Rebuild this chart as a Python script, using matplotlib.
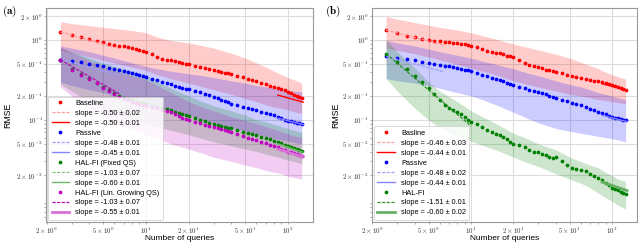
import numpy as np
import matplotlib
matplotlib.use("Agg")
import matplotlib.pyplot as plt
from matplotlib.ticker import LogLocator, NullFormatter

plt.rcParams['font.family'] = ['Liberation Sans', 'DejaVu Sans']
plt.rcParams['mathtext.fontset'] = 'cm'

# number of queries at which the mean RMSE is shown
queries = [2.5, 3, 3.5, 4, 4.5, 5, 5.5, 6, 6.5, 7, 7.5, 8, 8.5, 9, 9.5, 10,
           11, 12, 13, 14, 15, 16, 17, 18, 19, 20,
           22, 24, 26, 28, 30, 32, 34, 36, 38, 40,
           44, 48, 52, 56, 60,
           65, 70, 75, 80, 85, 90, 95, 100, 105, 110, 115, 120, 125]

# panel (a) means
a_baseline = [1.27, 1.18, 1.11, 1.04, 0.99, 0.95, 0.91, 0.88, 0.86, 0.84, 0.82, 0.795, 0.775, 0.755, 0.74, 0.72,
              0.68, 0.62, 0.585, 0.57, 0.56, 0.545, 0.53, 0.515, 0.505, 0.50,
              0.48, 0.465, 0.45, 0.435, 0.42, 0.41, 0.40, 0.39, 0.385, 0.375,
              0.36, 0.345, 0.33, 0.32, 0.305,
              0.29, 0.28, 0.27, 0.26, 0.25, 0.245, 0.235, 0.225, 0.215, 0.205, 0.198, 0.192, 0.186]
a_passive = [0.575, 0.55, 0.53, 0.51, 0.49, 0.47, 0.455, 0.44, 0.425, 0.41, 0.40, 0.385, 0.375, 0.365, 0.355, 0.345,
             0.33, 0.315, 0.30, 0.29, 0.28, 0.27, 0.262, 0.255, 0.248, 0.242,
             0.232, 0.222, 0.212, 0.203, 0.195, 0.187, 0.18, 0.173, 0.166, 0.16,
             0.152, 0.146, 0.141, 0.136, 0.132,
             0.127, 0.123, 0.118, 0.114, 0.11, 0.105, 0.101, 0.098, 0.096, 0.094, 0.092, 0.091, 0.09]
a_fixed = [0.57, 0.44, 0.375, 0.335, 0.295, 0.26, 0.235, 0.215, 0.2, 0.19, 0.182, 0.176, 0.17, 0.165, 0.161, 0.157,
           0.151, 0.146, 0.141, 0.137, 0.132, 0.127, 0.122, 0.118, 0.115, 0.112,
           0.106, 0.10, 0.096, 0.092, 0.089, 0.087, 0.084, 0.082, 0.08, 0.078,
           0.074, 0.071, 0.068, 0.066, 0.064,
           0.061, 0.059, 0.057, 0.055, 0.053, 0.051, 0.049, 0.047, 0.046, 0.044, 0.043, 0.042, 0.041]
a_growing = [0.57, 0.43, 0.37, 0.33, 0.29, 0.25, 0.23, 0.21, 0.195, 0.185, 0.178, 0.17, 0.165, 0.16, 0.155, 0.15,
             0.145, 0.14, 0.135, 0.13, 0.124, 0.118, 0.112, 0.107, 0.103, 0.10,
             0.095, 0.091, 0.087, 0.084, 0.081, 0.078, 0.076, 0.074, 0.072, 0.07,
             0.066, 0.063, 0.06, 0.058, 0.056,
             0.053, 0.051, 0.049, 0.047, 0.045, 0.043, 0.042, 0.04, 0.039, 0.038, 0.037, 0.036, 0.035]

# panel (b) means
b_baseline = [1.35, 1.23, 1.15, 1.09, 1.05, 1.01, 0.995, 0.98, 0.965, 0.95, 0.935, 0.92, 0.905, 0.89, 0.875, 0.86,
              0.82, 0.77, 0.73, 0.705, 0.70, 0.69, 0.665, 0.645, 0.645, 0.61,
              0.56, 0.52, 0.495, 0.475, 0.46, 0.445, 0.43, 0.42, 0.41, 0.40,
              0.385, 0.372, 0.36, 0.35, 0.34,
              0.33, 0.32, 0.31, 0.305, 0.298, 0.29, 0.281, 0.273, 0.265, 0.258, 0.252, 0.246, 0.24]
b_passive = [0.63, 0.60, 0.58, 0.56, 0.54, 0.52, 0.505, 0.49, 0.48, 0.47, 0.46, 0.45, 0.44, 0.43, 0.42, 0.41,
             0.39, 0.37, 0.355, 0.34, 0.33, 0.318, 0.306, 0.295, 0.285, 0.276,
             0.262, 0.25, 0.24, 0.231, 0.223, 0.216, 0.209, 0.202, 0.196, 0.19,
             0.18, 0.172, 0.165, 0.158, 0.152,
             0.145, 0.139, 0.133, 0.127, 0.122, 0.117, 0.113, 0.11, 0.107, 0.105, 0.102, 0.10, 0.099]
b_halfi = [0.68, 0.53, 0.44, 0.36, 0.30, 0.25, 0.21, 0.18, 0.155, 0.142, 0.133, 0.125, 0.117, 0.108, 0.10, 0.094,
           0.088, 0.081, 0.075, 0.071, 0.067, 0.064, 0.061, 0.057, 0.052, 0.05,
           0.049, 0.045, 0.042, 0.04, 0.039, 0.0375, 0.036, 0.0345, 0.0335, 0.034,
           0.030, 0.027, 0.025, 0.024, 0.0235,
           0.0225, 0.021, 0.0195, 0.0185, 0.0175, 0.016, 0.015, 0.014, 0.0135, 0.013, 0.0125, 0.0121, 0.0118]

# spread bands (lower / upper), on a coarser set of query counts
band_q = [2.5, 3, 4, 5, 6, 8, 10, 12, 15, 20, 25, 30, 40, 50, 60, 70, 80, 90, 100, 110, 125]
a_baseline_hi = [1.71, 1.63, 1.53, 1.46, 1.41, 1.33, 1.25, 1.1, 1.0, 0.93, 0.86, 0.8, 0.69, 0.6, 0.52, 0.46, 0.41, 0.37, 0.34, 0.32, 0.29]
a_baseline_lo = [0.75, 0.7, 0.62, 0.56, 0.52, 0.46, 0.42, 0.37, 0.33, 0.29, 0.26, 0.24, 0.21, 0.185, 0.17, 0.155, 0.145, 0.14, 0.133, 0.127, 0.12]
a_passive_hi = [0.85, 0.8, 0.72, 0.65, 0.6, 0.52, 0.47, 0.44, 0.41, 0.38, 0.36, 0.34, 0.31, 0.29, 0.27, 0.26, 0.25, 0.24, 0.235, 0.23, 0.225]
a_passive_lo = [0.3, 0.27, 0.24, 0.22, 0.2, 0.18, 0.16, 0.145, 0.13, 0.115, 0.1, 0.092, 0.08, 0.072, 0.066, 0.062, 0.058, 0.056, 0.054, 0.052, 0.05]
a_fixed_hi = [0.82, 0.72, 0.6, 0.52, 0.47, 0.41, 0.37, 0.3, 0.25, 0.2, 0.17, 0.15, 0.13, 0.115, 0.1, 0.094, 0.088, 0.082, 0.078, 0.074, 0.07]
a_fixed_lo = [0.28, 0.23, 0.17, 0.14, 0.12, 0.1, 0.09, 0.082, 0.074, 0.065, 0.058, 0.053, 0.047, 0.043, 0.04, 0.037, 0.035, 0.033, 0.031, 0.03, 0.028]
a_growing_hi = [0.82, 0.7, 0.56, 0.47, 0.42, 0.36, 0.32, 0.27, 0.22, 0.17, 0.145, 0.13, 0.11, 0.098, 0.09, 0.082, 0.076, 0.071, 0.067, 0.063, 0.06]
a_growing_lo = [0.26, 0.2, 0.14, 0.11, 0.09, 0.075, 0.065, 0.058, 0.05, 0.043, 0.038, 0.034, 0.03, 0.027, 0.025, 0.023, 0.022, 0.021, 0.0195, 0.0188, 0.018]
b_baseline_hi = [2.0, 1.85, 1.68, 1.55, 1.46, 1.35, 1.25, 1.15, 1.04, 0.9, 0.82, 0.76, 0.67, 0.6, 0.53, 0.48, 0.44, 0.4, 0.37, 0.35, 0.325]
b_baseline_lo = [0.8, 0.75, 0.68, 0.62, 0.57, 0.5, 0.45, 0.41, 0.37, 0.31, 0.28, 0.26, 0.23, 0.21, 0.2, 0.19, 0.18, 0.175, 0.17, 0.165, 0.16]
b_passive_hi = [1.0, 0.93, 0.85, 0.78, 0.72, 0.65, 0.6, 0.55, 0.5, 0.44, 0.39, 0.36, 0.31, 0.28, 0.26, 0.24, 0.22, 0.21, 0.2, 0.19, 0.18]
b_passive_lo = [0.33, 0.31, 0.29, 0.27, 0.25, 0.22, 0.2, 0.18, 0.155, 0.125, 0.105, 0.092, 0.078, 0.072, 0.068, 0.065, 0.062, 0.06, 0.058, 0.056, 0.053]
b_halfi_hi = [1.0, 0.72, 0.45, 0.3, 0.23, 0.17, 0.13, 0.11, 0.09, 0.068, 0.058, 0.05, 0.042, 0.034, 0.03, 0.027, 0.025, 0.022, 0.02, 0.018, 0.017]
b_halfi_lo = [0.33, 0.23, 0.14, 0.1, 0.08, 0.062, 0.054, 0.048, 0.042, 0.034, 0.029, 0.026, 0.021, 0.018, 0.016, 0.014, 0.012, 0.0105, 0.0095, 0.0085, 0.0075]

# fitted slopes: (slope, legend text, first query, last query, value at first query)
a_fits = {
    "Baseline": [(-0.50, "slope = -0.50 ± 0.02", 2.5, 6.5, 1.27), (-0.50, "slope = -0.50 ± 0.01", 85, 128, 0.205)],
    "Passive": [(-0.48, "slope = -0.48 ± 0.01", 2.5, 6.5, 0.575), (-0.45, "slope = -0.45 ± 0.01", 85, 128, 0.105)],
    "HAL-FI (Fixed QS)": [(-1.03, "slope = -1.03 ± 0.07", 2.5, 5, 0.57), (-0.60, "slope = -0.60 ± 0.01", 85, 128, 0.05)],
    "HAL-FI (Lin. Growing QS)": [(-1.03, "slope = -1.03 ± 0.07", 2.5, 6.5, 0.57), (-0.55, "slope = -0.55 ± 0.01", 85, 128, 0.043)],
}
b_fits = {
    "Basline": [(-0.46, "slope = -0.46 ± 0.03", 2.5, 6.5, 1.35), (-0.44, "slope = -0.44 ± 0.01", 85, 128, 0.285)],
    "Passive": [(-0.48, "slope = -0.48 ± 0.02", 2.5, 6.5, 0.63), (-0.44, "slope = -0.44 ± 0.01", 85, 128, 0.114)],
    "HAL-FI": [(-1.51, "slope = -1.51 ± 0.01", 2.5, 10, 0.68), (-0.60, "slope = -0.60 ± 0.02", 85, 128, 0.0165)],
}

x_ticks = [2, 5, 10, 20, 50, 100]
x_labels = [r"$2\times10^{0}$", r"$5\times10^{0}$", r"$10^{1}$", r"$2\times10^{1}$", r"$5\times10^{1}$", r"$10^{2}$"]
y_ticks = [0.02, 0.05, 0.1, 0.2, 0.5, 1, 2]
y_labels = [r"$2\times10^{-2}$", r"$5\times10^{-2}$", r"$10^{-1}$", r"$2\times10^{-1}$",
            r"$5\times10^{-1}$", r"$10^{0}$", r"$2\times10^{0}$"]


def draw_panel(ax, series, fits, styles):
    for (name, mean, lo, hi), (color, dcol, scol, slw) in zip(series, styles):
        ax.fill_between(band_q, lo, hi, color=color, alpha=0.2, lw=0)
    for (name, mean, lo, hi), (color, dcol, scol, slw) in zip(series, styles):
        ax.plot(queries, mean, 'o', color=color, ms=2.7, mew=0, label=name)
        early, late = fits[name]
        for (slope, text, q0, q1, y0), ls, c, lw in [(early, (0, (2.5, 1.2)), dcol, 0.9),
                                                      (late, '-', scol, slw)]:
            qq = np.geomspace(q0, q1, 20)
            ax.plot(qq, y0 * (qq / q0) ** slope, ls=ls, color=c, lw=lw, label=text)
    ax.set_xscale('log')
    ax.set_yscale('log')
    ax.set_xlim(1.98, 150)
    ax.set_ylim(0.0052, 2.55)
    ax.set_xticks(x_ticks, x_labels)
    ax.set_yticks(y_ticks, y_labels)
    ax.xaxis.set_minor_locator(LogLocator(subs=np.arange(2, 10)))
    ax.yaxis.set_minor_locator(LogLocator(subs=np.arange(2, 10)))
    ax.xaxis.set_minor_formatter(NullFormatter())
    ax.yaxis.set_minor_formatter(NullFormatter())
    ax.tick_params(which='both', labelsize=5, length=1.5, width=0.5, color='#888888',
                   labelcolor='#333333', pad=1.0)
    ax.grid(True, which='major', color='#dddddd', lw=0.8)
    ax.set_axisbelow(True)
    for sp in ax.spines.values():
        sp.set_color('#999999')
        sp.set_linewidth(0.8)
    ax.set_xlabel("Number of queries", fontsize=6.0, va='center')
    ax.set_ylabel("RMSE", fontsize=6.3)
    ax.xaxis.set_label_coords(0.5, -0.078)
    leg = ax.legend(loc='lower left', fontsize=5.3, numpoints=1, handlelength=2.4,
                    labelspacing=0.38, borderpad=0.45, borderaxespad=0.3,
                    handletextpad=0.8, framealpha=0.85, edgecolor='#cccccc', fancybox=True)
    leg.get_frame().set_linewidth(0.6)


fig = plt.figure(figsize=(6.4, 2.45), dpi=100)
ax_a = fig.add_axes([0.072, 0.094, 0.417, 0.873])
ax_b = fig.add_axes([0.581, 0.094, 0.414, 0.873])

red_styles = ('red', '#ff9a9a', 'red', 1.0)
blue_styles = ('blue', '#9e9eff', '#8585ff', 1.0)

draw_panel(ax_a,
           [("Baseline", a_baseline, a_baseline_lo, a_baseline_hi),
            ("Passive", a_passive, a_passive_lo, a_passive_hi),
            ("HAL-FI (Fixed QS)", a_fixed, a_fixed_lo, a_fixed_hi),
            ("HAL-FI (Lin. Growing QS)", a_growing, a_growing_lo, a_growing_hi)],
           a_fits,
           [red_styles, blue_styles, ('green', '#80c080', '#70b870', 1.0), ('m', 'm', '#d870d8', 2.0)])
draw_panel(ax_b,
           [("Basline", b_baseline, b_baseline_lo, b_baseline_hi),
            ("Passive", b_passive, b_passive_lo, b_passive_hi),
            ("HAL-FI", b_halfi, b_halfi_lo, b_halfi_hi)],
           b_fits,
           [red_styles, blue_styles, ('green', '#2e8b2e', '#66b066', 2.0)])
ax_a.yaxis.set_label_coords(-0.128, 0.5)
ax_b.yaxis.set_label_coords(-0.12, 0.5)

fig.text(0.003, 0.985, r"$\mathbf{(a)}$", fontsize=8, va='top', ha='left')
fig.text(0.508, 0.985, r"$\mathbf{(b)}$", fontsize=8, va='top', ha='left')

fig.savefig("out.png", dpi=100)
